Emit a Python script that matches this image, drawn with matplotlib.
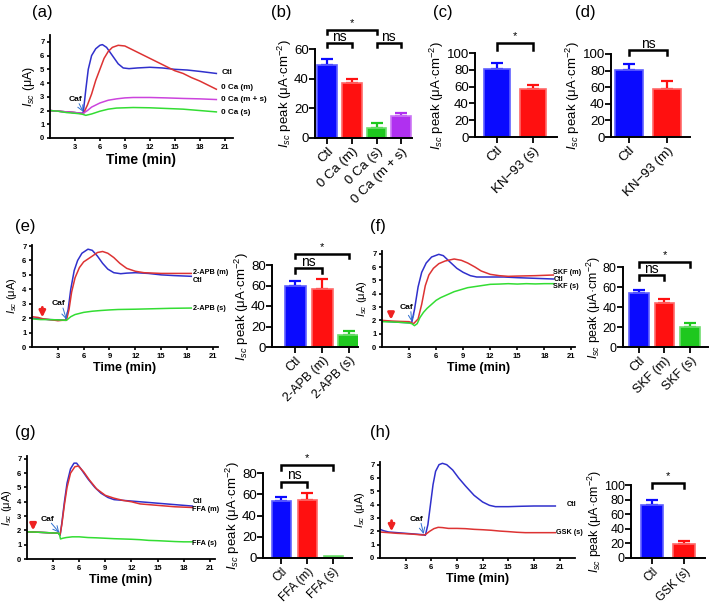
import numpy as np
import matplotlib
matplotlib.use('Agg')
import matplotlib.pyplot as plt

plt.rcParams['font.family'] = ['Liberation Sans', 'DejaVu Sans']
plt.rcParams['mathtext.fontset'] = 'custom'
plt.rcParams['mathtext.rm'] = 'Liberation Sans'
plt.rcParams['mathtext.it'] = 'Liberation Sans:italic'

# ---------- trace data (time in min, Isc in uA) ----------
# (a)
a_ctl_t = [0, 1, 2, 3, 3.8, 4.0, 4.3, 4.6, 5.0, 5.5, 6.0, 6.3, 6.8, 7.5, 8.2, 8.8, 9.5, 10.5, 12, 13.5, 15, 16.5, 18, 20]
a_ctl_y = [2.0, 1.95, 1.9, 1.85, 1.8, 1.85, 3.5, 5.0, 6.0, 6.5, 6.75, 6.8, 6.6, 6.0, 5.4, 5.1, 5.05, 5.1, 5.15, 5.1, 5.0, 4.95, 4.85, 4.7]
a_m_t = [0, 1, 2, 3, 4.0, 4.5, 5, 5.5, 6, 6.5, 7, 7.5, 8.2, 9, 10, 11, 12, 13, 14, 15, 16, 17, 18, 19, 20]
a_m_y = [2.0, 1.95, 1.9, 1.85, 1.75, 2.4, 3.2, 4.2, 5.0, 5.8, 6.3, 6.6, 6.75, 6.7, 6.4, 6.1, 5.8, 5.5, 5.2, 4.9, 4.7, 4.4, 4.15, 3.85, 3.55]
a_ms_t = [0, 1, 2, 3, 4.0, 4.5, 5, 6, 7, 8, 9, 10, 12, 14, 16, 18, 20]
a_ms_y = [2.0, 1.95, 1.9, 1.85, 1.8, 2.0, 2.25, 2.55, 2.75, 2.85, 2.92, 2.95, 2.95, 2.92, 2.88, 2.85, 2.8]
a_s_t = [0, 1, 2, 3, 3.8, 4.3, 5, 6, 7, 8, 9, 10, 12, 14, 16, 18, 20]
a_s_y = [2.0, 1.95, 1.85, 1.8, 1.75, 1.65, 1.75, 1.95, 2.1, 2.18, 2.2, 2.22, 2.2, 2.15, 2.1, 2.0, 1.9]

# (e)
e_ctl_t = [0, 1, 2, 3, 3.9, 4.2, 4.5, 4.9, 5.3, 5.8, 6.5, 7.0, 7.6, 8.2, 8.8, 9.5, 10.3, 11, 12, 13.5, 15, 16.5, 18.5]
e_ctl_y = [2.0, 1.95, 1.9, 1.88, 1.85, 2.6, 4.0, 5.3, 6.0, 6.5, 6.78, 6.7, 6.3, 5.8, 5.4, 5.15, 5.08, 5.12, 5.15, 5.1, 5.0, 4.95, 4.9]
e_m_t = [0, 0.7, 1.3, 2, 2.7, 3, 3.5, 4.0, 4.3, 4.6, 5, 5.5, 6, 6.5, 7, 7.6, 8.2, 8.8, 9.5, 10.2, 11, 12, 13, 15, 16.5, 18.5]
e_m_y = [2.1, 2.05, 1.95, 1.9, 1.85, 1.82, 1.85, 1.85, 2.6, 3.8, 4.8, 5.5, 5.9, 6.1, 6.3, 6.55, 6.62, 6.5, 6.2, 5.8, 5.45, 5.25, 5.15, 5.1, 5.1, 5.1]
e_s_t = [0, 1, 2, 3, 4.0, 4.5, 5, 6, 7, 8, 9, 10, 12, 14, 16, 18.5]
e_s_y = [1.95, 1.9, 1.9, 1.88, 1.85, 2.1, 2.25, 2.4, 2.48, 2.53, 2.57, 2.6, 2.62, 2.65, 2.68, 2.7]

# (f)
f_ctl_t = [0, 1, 2, 3, 3.3, 3.6, 4, 4.4, 4.9, 5.5, 6.3, 6.8, 7.5, 8.3, 9, 9.8, 10.5, 12, 13.5, 15, 17, 19]
f_ctl_y = [1.95, 1.9, 1.85, 1.82, 1.85, 2.8, 4.5, 5.6, 6.3, 6.75, 6.95, 6.85, 6.4, 5.9, 5.6, 5.35, 5.25, 5.25, 5.25, 5.2, 5.15, 5.1]
f_m_t = [0, 1, 2, 3, 3.5, 4.0, 4.4, 4.8, 5.2, 5.7, 6.3, 7, 8, 8.8, 9.5, 10.3, 11, 12, 13, 14, 15, 17, 19]
f_m_y = [2.0, 1.95, 1.92, 1.9, 1.75, 2.1, 3.2, 4.6, 5.4, 5.9, 6.25, 6.45, 6.6, 6.5, 6.3, 6.0, 5.7, 5.45, 5.35, 5.3, 5.32, 5.35, 5.4]
f_s_t = [0, 1, 2, 3, 3.3, 3.6, 3.9, 4.2, 4.6, 5, 5.5, 6, 6.5, 7, 7.5, 8, 8.5, 9, 9.5, 10, 10.5, 11, 12, 13, 14, 15, 16, 17, 18, 19]
f_s_y = [1.9, 1.88, 1.85, 1.8, 1.75, 1.6, 1.75, 2.2, 2.6, 2.9, 3.2, 3.5, 3.7, 3.85, 4.0, 4.15, 4.25, 4.35, 4.45, 4.5, 4.55, 4.6, 4.7, 4.72, 4.75, 4.72, 4.75, 4.73, 4.75, 4.75]

# (g)
g_ctl_t = [0, 1, 2, 3, 3.6, 3.8, 4.0, 4.3, 4.6, 5.0, 5.4, 5.7, 6.2, 7, 7.8, 8.5, 9.3, 10, 11, 12, 13, 15, 17, 19]
g_ctl_y = [1.9, 1.88, 1.85, 1.82, 1.8, 1.65, 2.5, 4.0, 5.3, 6.3, 6.7, 6.7, 6.3, 5.6, 5.0, 4.6, 4.3, 4.15, 4.1, 4.05, 4.0, 3.9, 3.8, 3.7]
g_m_t = [0, 1, 2, 3, 3.6, 3.8, 4.0, 4.3, 4.6, 5.0, 5.5, 5.9, 6.5, 7.2, 8, 9, 10, 11, 12, 13, 15, 17, 19]
g_m_y = [1.9, 1.88, 1.85, 1.82, 1.8, 1.7, 2.4, 3.8, 5.0, 6.0, 6.45, 6.5, 6.1, 5.5, 4.9, 4.45, 4.25, 4.1, 4.0, 3.85, 3.75, 3.65, 3.6]
g_s_t = [0, 1, 2, 3, 3.7, 3.85, 4.1, 4.5, 5.2, 6, 7, 8, 9, 10, 11, 12, 13, 14, 15, 16, 17, 18, 19]
g_s_y = [1.9, 1.88, 1.85, 1.82, 1.8, 1.4, 1.45, 1.5, 1.55, 1.55, 1.5, 1.48, 1.45, 1.42, 1.4, 1.38, 1.35, 1.3, 1.28, 1.25, 1.22, 1.2, 1.2]

# (h)
h_ctl_t = [0, 0.4, 1, 2, 3, 4, 5, 5.3, 5.6, 5.9, 6.2, 6.5, 6.9, 7.3, 7.8, 8.5, 9.2, 10, 11, 12, 12.8, 13.5, 15, 16.5, 18, 20.5]
h_ctl_y = [2.15, 2.05, 1.95, 1.9, 1.85, 1.8, 1.75, 1.7, 2.5, 4.0, 5.5, 6.5, 7.0, 7.1, 7.0, 6.6, 6.0, 5.4, 4.7, 4.2, 3.95, 3.85, 3.85, 3.88, 3.9, 3.9]
h_s_t = [0, 1, 2, 3, 4, 5, 5.3, 5.8, 6.3, 6.8, 7.3, 8, 9, 10, 11, 12, 13, 14, 15, 16, 17, 18, 19, 20.5]
h_s_y = [1.95, 1.9, 1.85, 1.82, 1.78, 1.72, 1.75, 2.0, 2.2, 2.3, 2.28, 2.22, 2.22, 2.2, 2.15, 2.12, 2.08, 2.02, 1.98, 1.93, 1.9, 1.9, 1.9, 1.9]

# ---------- bar data (Isc peak, uA/cm2) ----------
b_cats = ['Ctl', '0 Ca (m)', '0 Ca (s)', '0 Ca (m + s)']
b_vals = [49, 37, 6.5, 14.5]
b_errs = [4.5, 3, 3.5, 2.5]
c_cats = ['Ctl', 'KN\u221293 (s)']
c_vals = [81, 57]
c_errs = [7, 5]
d_cats = ['Ctl', 'KN\u221293 (m)']
d_vals = [81, 58]
d_errs = [7, 10]
e_cats = ['Ctl', '2-APB (m)', '2-APB (s)']
e_vals = [60, 57, 12]
e_errs = [4, 9, 4]
f_cats = ['Ctl', 'SKF (m)', 'SKF (s)']
f_vals = [54, 44, 20]
f_errs = [3.5, 4.5, 4.5]
g_cats = ['Ctl', 'FFA (m)', 'FFA (s)']
g_vals = [54, 55, 1.5]
g_errs = [3.5, 6.5, 0]
h_cats = ['Ctl', 'GSK (s)']
h_vals = [72, 19]
h_errs = [7, 4]

# colours
T_BLUE, T_RED, T_GREEN, T_PURPLE = '#3030cc', '#dd3333', '#33dd33', '#cc44dd'
B_BLUE, B_RED, B_GREEN, B_PURPLE = '#0a0aff', '#ff1010', '#1ec81e', '#b030f0'
EDGE = {B_BLUE: '#6060ff', B_RED: '#ff6a6a', B_GREEN: '#70dd70', B_PURPLE: '#cc77f5'}

W, H = 709, 604
fig = plt.figure(figsize=(7.09, 6.04), dpi=100)


def px_axes(l, t, r, b):
    return fig.add_axes([l / W, 1 - b / H, (r - l) / W, (b - t) / H])


def trace_panel(box, xmax, ymax, curves, labels, caf, arrow=None, xlab_size=9, ylab_size=8, lab_size=5.2):
    ax = px_axes(*box)
    for (t, y, c) in curves:
        ax.plot(t, y, color=c, lw=1.1)
    for (txt, lx, ly) in labels:
        ax.text(lx, ly, txt, fontsize=lab_size, fontweight='bold', va='center', clip_on=False)
    ctx, cty, cax, cay = caf
    ax.text(ctx, cty, 'Caf', fontsize=6, fontweight='bold', ha='center', va='bottom')
    ax.annotate('', xy=(cax, cay), xytext=(ctx + 0.5, cty - 0.05),
                arrowprops=dict(arrowstyle='->', color='#3070d0', lw=0.7, shrinkA=0, shrinkB=0))
    if arrow is not None:
        at, ay0, ay1 = arrow
        ax.annotate('', xy=(at, ay1), xytext=(at, ay0),
                    arrowprops=dict(arrowstyle='-|>', color='#ee2222', lw=2.0,
                                    mutation_scale=9, shrinkA=0, shrinkB=0))
    ax.set_xlim(0, xmax)
    ax.set_ylim(0, ymax)
    ax.set_xticks(range(3, 22, 3))
    ax.set_yticks(range(0, 8))
    ax.tick_params(labelsize=5.5, length=2.5, width=1.2, pad=1.5)
    for lab in ax.get_xticklabels() + ax.get_yticklabels():
        lab.set_fontweight('bold')
    for s in ['top', 'right']:
        ax.spines[s].set_visible(False)
    for s in ['left', 'bottom']:
        ax.spines[s].set_linewidth(1.3)
    ax.set_xlabel('Time (min)', fontsize=xlab_size, fontweight='bold', labelpad=2)
    ax.set_ylabel('$I_{sc}$ (\u03bcA)', fontsize=ylab_size, labelpad=2)
    return ax


def bar_panel(box, xlim, ylim, yticks, cats, vals, errs, colors, width, brackets, xt_size=9.5, yt_size=9.5):
    ax = px_axes(*box)
    x = np.arange(len(cats))
    ax.bar(x, vals, width, color=colors, edgecolor=[EDGE[c] for c in colors], lw=1.2, zorder=2)
    for xi, v, e, c in zip(x, vals, errs, colors):
        if e > 0:
            ax.errorbar(xi, v, yerr=[[0], [e]], color=c, capsize=4, lw=1.6, capthick=1.6, zorder=1)
    for (i, j, yb, h, txt) in brackets:
        ax.plot([i, i, j, j], [yb - h, yb, yb, yb - h], color='k', lw=1.8, clip_on=False,
                solid_joinstyle='miter')
        if txt == '*':
            ax.text((i + j) / 2, yb + 0.02 * ylim, '*', ha='center', va='bottom', fontsize=8)
        else:
            ax.text((i + j) / 2, yb - 0.01 * ylim, txt, ha='center', va='bottom', fontsize=10)
    ax.set_xlim(*xlim)
    ax.set_ylim(0, ylim)
    ax.set_yticks(yticks)
    ax.set_xticks(x)
    ax.set_xticklabels(cats, rotation=45, ha='right', rotation_mode='anchor', fontsize=xt_size)
    ax.tick_params(axis='y', labelsize=yt_size, length=4, width=1.3, pad=0.5)
    ax.tick_params(axis='x', length=4, width=1.3, pad=1.5)
    for s in ['top', 'right']:
        ax.spines[s].set_visible(False)
    for s in ['left', 'bottom']:
        ax.spines[s].set_linewidth(1.4)
    ax.set_ylabel('$I_{sc}$ peak (\u03bcA\u00b7cm$^{-2}$)', fontsize=yt_size, labelpad=0)
    return ax


# ---- (a) ----
trace_panel((50, 35, 233, 138), 22, 7.5,
            [(a_ctl_t, a_ctl_y, T_BLUE), (a_m_t, a_m_y, T_RED),
             (a_ms_t, a_ms_y, T_PURPLE), (a_s_t, a_s_y, T_GREEN)],
            [('Ctl', 20.6, 4.75), ('0 Ca (m)', 20.6, 3.65),
             ('0 Ca (m + s)', 20.6, 2.8), ('0 Ca (s)', 20.6, 1.85)],
            (3.0, 2.55, 4.0, 1.9), xlab_size=10, ylab_size=9, lab_size=5.8)

# ---- (b) (c) (d) ----
bar_panel((315, 49, 412, 138), (-0.5, 3.44), 60, [0, 20, 40, 60],
          b_cats, b_vals, b_errs, [B_BLUE, B_RED, B_GREEN, B_PURPLE], 0.8,
          [(0, 1, 64, 2.7, 'ns'), (2, 3, 64, 2.7, 'ns'), (0, 2, 73, 2.7, '*')])
bar_panel((475, 53, 557, 137), (-0.61, 1.67), 100, range(0, 101, 20),
          c_cats, c_vals, c_errs, [B_BLUE, B_RED], 0.72,
          [(0, 1, 112, 8, '*')])
bar_panel((611, 54, 690, 137), (-0.47, 1.6), 100, range(0, 101, 20),
          d_cats, d_vals, d_errs, [B_BLUE, B_RED], 0.74,
          [(0, 1, 105, 6, 'ns')])

# ---- (e) ----
trace_panel((32, 245, 218, 347), 21.6, 7.07,
            [(e_ctl_t, e_ctl_y, T_BLUE), (e_m_t, e_m_y, T_RED), (e_s_t, e_s_y, T_GREEN)],
            [('2-APB (m)', 18.7, 5.15), ('Ctl', 18.7, 4.6), ('2-APB (s)', 18.7, 2.7)],
            (3.1, 2.75, 4.0, 1.9), arrow=(1.2, 2.75, 2.05))
bar_panel((272, 265, 358, 347), (-0.87, 2.33), 80, range(0, 81, 20),
          e_cats, e_vals, e_errs, [B_BLUE, B_RED, B_GREEN], 0.8,
          [(0, 1, 77, 5, 'ns'), (0, 2, 91, 4.5, '*')], xt_size=9)

# ---- (f) ----
trace_panel((382, 251, 575, 347), 21.4, 7.2,
            [(f_ctl_t, f_ctl_y, T_BLUE), (f_m_t, f_m_y, T_RED), (f_s_t, f_s_y, T_GREEN)],
            [('SKF (m)', 19.0, 5.55), ('Ctl', 19.0, 5.05), ('SKF (s)', 19.0, 4.5)],
            (2.7, 2.7, 3.3, 1.9), arrow=(1.0, 2.6, 2.05))
bar_panel((623, 267, 708, 347), (-0.62, 2.7), 80, range(0, 81, 20),
          f_cats, f_vals, f_errs, [B_BLUE, B_RED, B_GREEN], 0.76,
          [(0, 1, 72, 5, 'ns'), (0, 2, 85, 5, '*')], xt_size=9, yt_size=9)

# ---- (g) ----
trace_panel((27, 456, 215, 559), 21.6, 7.2,
            [(g_ctl_t, g_ctl_y, T_BLUE), (g_m_t, g_m_y, T_RED), (g_s_t, g_s_y, T_GREEN)],
            [('Ctl', 19.0, 4.0), ('FFA (m)', 19.0, 3.45), ('FFA (s)', 19.0, 1.1)],
            (2.3, 2.55, 3.7, 1.85), arrow=(0.7, 2.55, 2.0))
bar_panel((263, 473, 352, 558), (-0.7, 2.73), 80, range(0, 81, 20),
          g_cats, g_vals, g_errs, [B_BLUE, B_RED, B_GREEN], 0.73,
          [(0, 1, 72, 5, 'ns'), (0, 2, 88, 5, '*')], xt_size=8.5)

# ---- (h) ----
trace_panel((380, 462, 575, 558), 22.8, 7.2,
            [(h_ctl_t, h_ctl_y, T_BLUE), (h_s_t, h_s_y, T_RED)],
            [('Ctl', 21.8, 4.05), ('GSK (s)', 20.6, 1.9)],
            (4.3, 2.65, 5.1, 1.8), arrow=(1.35, 2.8, 2.0))
bar_panel((631, 485, 705, 558), (-0.66, 1.66), 100, range(0, 101, 20),
          h_cats, h_vals, h_errs, [B_BLUE, B_RED], 0.7,
          [(0, 1, 103, 7, '*')], xt_size=8.5, yt_size=9)

# panel letters
for letter, px, py in [('(a)', 42, 13), ('(b)', 281, 13), ('(c)', 443, 13), ('(d)', 585, 13),
                       ('(e)', 25, 226), ('(f)', 378, 226), ('(g)', 25, 433), ('(h)', 380, 433)]:
    fig.text(px / W, 1 - py / H, letter, fontsize=12, ha='center', va='center')

fig.savefig('out.png', dpi=100)
